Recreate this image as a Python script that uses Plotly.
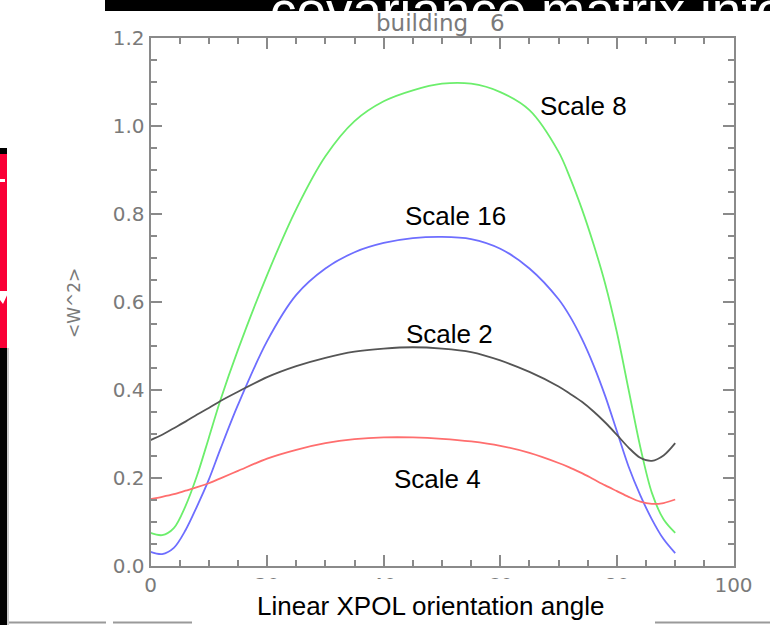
import plotly.graph_objects as go

# Orientation angle grid (degrees) and mean <W^2> per wavelet scale
angle = [0, 2, 4, 6, 8, 10, 12, 15, 20, 25, 30, 35, 40, 45, 50, 55, 60,
         65, 70, 72, 74, 76, 78, 80, 82, 84, 86, 88, 90]

scale_8 = [0.074, 0.069, 0.085, 0.135, 0.205, 0.29, 0.376, 0.49, 0.66, 0.81,
           0.93, 1.01, 1.055, 1.08, 1.095, 1.095, 1.076, 1.035, 0.94, 0.88,
           0.81, 0.73, 0.64, 0.53, 0.40, 0.27, 0.165, 0.105, 0.074]

scale_16 = [0.031, 0.026, 0.04, 0.08, 0.135, 0.195, 0.265, 0.365, 0.51, 0.615,
            0.675, 0.712, 0.733, 0.744, 0.747, 0.742, 0.72, 0.675, 0.605, 0.565,
            0.515, 0.455, 0.385, 0.305, 0.225, 0.16, 0.105, 0.06, 0.028]

scale_2 = [0.285, 0.297, 0.312, 0.327, 0.343, 0.358, 0.374, 0.395, 0.428, 0.453,
           0.472, 0.486, 0.493, 0.496, 0.493, 0.485, 0.466, 0.44, 0.407, 0.39,
           0.372, 0.35, 0.325, 0.297, 0.268, 0.245, 0.238, 0.25, 0.278]

scale_4 = [0.151, 0.156, 0.162, 0.17, 0.178, 0.187, 0.198, 0.215, 0.243, 0.263,
           0.278, 0.287, 0.291, 0.291, 0.288, 0.282, 0.272, 0.256, 0.233, 0.222,
           0.21, 0.196, 0.182, 0.169, 0.156, 0.145, 0.14, 0.142, 0.15]

series = [
    ("Scale 8", scale_8, "#6cee6c"),
    ("Scale 16", scale_16, "#6e6eff"),
    ("Scale 2", scale_2, "#555555"),
    ("Scale 4", scale_4, "#ff6e6e"),
]

# Curve labels: (text, angle, value) in data coordinates
labels = [
    ("Scale 8", 74.3, 1.045),
    ("Scale 16", 52.3, 0.795),
    ("Scale 2", 51.3, 0.527),
    ("Scale 4", 49.3, 0.196),
]

W, H = 770, 625


def fx(px):
    return px / W


def fy(py):
    return 1 - py / H


fig = go.Figure()
for name, vals, color in series:
    fig.add_trace(go.Scatter(
        x=angle, y=vals, mode="lines", name=name,
        line=dict(color=color, width=1.8, shape="spline", smoothing=0.9),
        showlegend=False, hoverinfo="skip",
    ))

axis_common = dict(
    showline=True, linecolor="#8a8a8a", linewidth=2, mirror="allticks",
    ticks="inside", tickcolor="#8a8a8a", tickwidth=1.5, ticklen=11,
    showgrid=False, zeroline=False,
    tickfont=dict(family="DejaVu Sans", size=20, color="#7a7a7a"),
)

fig.update_layout(
    width=W, height=H,
    margin=dict(l=0, r=0, t=0, b=0, autoexpand=False),
    paper_bgcolor="white", plot_bgcolor="white",
    xaxis=dict(range=[0, 100], dtick=20, tick0=0,
               domain=[fx(150.5), fx(733.5)],
               minor=dict(dtick=5, ticks="inside", ticklen=6,
                          tickcolor="#8a8a8a", tickwidth=1.5),
               **axis_common),
    yaxis=dict(range=[0, 1.2], dtick=0.2, tick0=0, tickformat=".1f",
               domain=[fy(565.5), fy(37.5)],
               minor=dict(dtick=0.05, ticks="inside", ticklen=6,
                          tickcolor="#8a8a8a", tickwidth=1.5),
               **axis_common),
)

shapes = [
    # slide header band
    dict(type="rect", x0=fx(105), x1=fx(771), y0=fy(0), y1=fy(11),
         fillcolor="black", line=dict(width=0)),
    # slide side bar
    dict(type="rect", x0=fx(-1), x1=fx(7), y0=fy(148), y1=fy(626),
         fillcolor="black", line=dict(width=0)),
    dict(type="rect", x0=fx(-1), x1=fx(7), y0=fy(154), y1=fy(348),
         fillcolor="#fa0036", line=dict(width=0)),
    dict(type="rect", x0=fx(7), x1=fx(9), y0=fy(348), y1=fy(626),
         fillcolor="#c8c8c8", line=dict(width=0)),
    dict(type="rect", x0=fx(-1), x1=fx(5), y0=fy(179), y1=fy(182),
         fillcolor="white", line=dict(width=0)),
    dict(type="path",
         path=f"M {fx(0)},{fy(291)} L {fx(9)},{fy(291)} L {fx(3)},{fy(304)} L {fx(0)},{fy(300)} Z",
         fillcolor="white", line=dict(width=0)),
    # caption box over the lower tick labels
    dict(type="rect", x0=fx(168), x1=fx(688), y0=fy(579), y1=fy(620),
         fillcolor="white", line=dict(width=0)),
    # bottom rules
    dict(type="line", x0=fx(9), x1=fx(106), y0=fy(622.5), y1=fy(622.5),
         line=dict(color="#9a9a9a", width=2)),
    dict(type="line", x0=fx(113), x1=fx(192), y0=fy(622.5), y1=fy(622.5),
         line=dict(color="#9a9a9a", width=2)),
    dict(type="line", x0=fx(655), x1=fx(771), y0=fy(622.5), y1=fy(622.5),
         line=dict(color="#9a9a9a", width=2)),
]
for s in shapes:
    s.update(xref="paper", yref="paper", layer="above")
fig.update_layout(shapes=shapes)

annotations = [
    # slide heading running under the header band
    dict(text="covariance matrix info", x=fx(268), y=fy(10), xanchor="left",
         yanchor="middle", showarrow=False,
         font=dict(family="Liberation Sans", size=53, color="white")),
    dict(text="building\u00a0\u00a0\u00a06", x=fx(440), y=fy(23), xanchor="center",
         yanchor="middle", showarrow=False,
         font=dict(family="DejaVu Sans", size=23, color="#7a7a7a")),
    dict(text="&lt;W^2&gt;", x=fx(74), y=fy(303), xanchor="center",
         yanchor="middle", showarrow=False, textangle=-90,
         font=dict(family="DejaVu Sans", size=17, color="#7a7a7a")),
    dict(text="Linear XPOL orientation angle", x=fx(430), y=fy(606),
         xanchor="center", yanchor="middle", showarrow=False,
         font=dict(family="Liberation Sans", size=26, color="black")),
]
for a in annotations:
    a.update(xref="paper", yref="paper")

for text, ax, av in labels:
    annotations.append(dict(
        text=text, x=ax, y=av, xref="x", yref="y", showarrow=False,
        xanchor="center", yanchor="middle",
        font=dict(family="Liberation Sans", size=26, color="black"),
    ))
fig.update_layout(annotations=annotations)

fig.write_html("out.html")
